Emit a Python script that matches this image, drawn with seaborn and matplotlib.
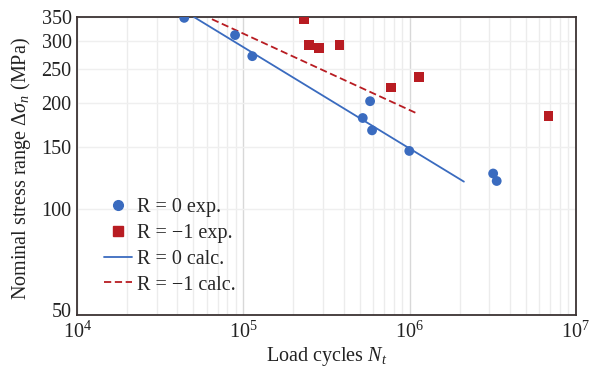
import matplotlib
matplotlib.use("Agg")
import matplotlib.pyplot as plt
import matplotlib.ticker as mticker
import matplotlib.transforms as mtransforms
from matplotlib.lines import Line2D
import numpy as np
import pandas as pd
import seaborn as sns

# experimental points
n_r0 = [44000, 89000, 113000, 578000, 522000, 594000, 995000, 3180000, 3340000]
s_r0 = [348, 311, 271, 202, 181, 167, 146, 126, 120]
n_r1 = [231000, 248000, 285000, 378000, 769000, 1140000, 6850000]
s_r1 = [346, 292, 286, 292, 221, 236, 183]

# calculated S-N lines (end points)
n_calc_r0 = [50300, 2120000]
s_calc_r0 = [350, 119.5]
n_calc_r1 = [64600, 1120000]
s_calc_r1 = [345, 186]

y_ticks = [50, 100, 150, 200, 250, 300, 350]

blue = "#3a6bbf"
red = "#b81c22"
spine_col = "#3b3333"
fs = 14.5

sns.set_style("white")
plt.rcParams["font.family"] = ["Liberation Serif", "DejaVu Serif"]
plt.rcParams["mathtext.fontset"] = "custom"
plt.rcParams["mathtext.rm"] = "Liberation Serif"
plt.rcParams["mathtext.it"] = "Liberation Serif:italic"

exp = pd.concat([
    pd.DataFrame({"N": n_r0, "S": s_r0, "series": "R = 0 exp."}),
    pd.DataFrame({"N": n_r1, "S": s_r1, "series": "R = \u22121 exp."}),
])
calc = pd.concat([
    pd.DataFrame({"N": n_calc_r0, "S": s_calc_r0, "series": "R = 0 calc."}),
    pd.DataFrame({"N": n_calc_r1, "S": s_calc_r1, "series": "R = \u22121 calc."}),
])

fig, ax = plt.subplots(figsize=(5.9, 3.69), dpi=100)
ax.set_xscale("log")
ax.set_yscale("log")

sns.lineplot(data=calc, x="N", y="S", hue="series", style="series",
             palette=[blue, red], dashes=[(None, None), (4, 2)],
             linewidth=1.3, ax=ax, legend=False, zorder=3)
sns.scatterplot(data=exp, x="N", y="S", hue="series", style="series",
                palette=[blue, red], markers=["o", "s"], s=50,
                edgecolor="none", ax=ax, legend=False, zorder=4)

ax.set_xlim(1e4, 1e7)
ax.set_ylim(50, 350)
ax.yaxis.set_major_locator(mticker.FixedLocator(y_ticks))
ax.yaxis.set_major_formatter(mticker.FixedFormatter([str(v) for v in y_ticks]))
ax.yaxis.set_minor_locator(mticker.NullLocator())
ax.xaxis.set_major_locator(mticker.LogLocator(base=10))
ax.xaxis.set_minor_locator(mticker.LogLocator(base=10, subs=np.arange(2, 10)))
ax.xaxis.set_minor_formatter(mticker.NullFormatter())

ax.grid(True, which="major", axis="y", color="#efefef", linewidth=1.0)
ax.grid(True, which="major", axis="x", color="#d8d8d8", linewidth=1.0)
ax.grid(True, which="minor", axis="x", color="#ececec", linewidth=1.0)
ax.set_axisbelow(True)

ax.tick_params(axis="x", which="both", direction="in", colors=spine_col,
               labelcolor="#222222", labelsize=fs, pad=5)
ax.tick_params(axis="x", which="major", length=5)
ax.tick_params(axis="x", which="minor", length=4)
ax.tick_params(axis="y", which="both", length=0, labelsize=fs,
               labelcolor="#222222", pad=4)

# lift the bottom "50" label a little so it clears 10^4
lbl50 = ax.get_yticklabels()[0]
lbl50.set_transform(lbl50.get_transform() +
                    mtransforms.ScaledTranslation(0, 4 / 72, fig.dpi_scale_trans))

for sp in ax.spines.values():
    sp.set_color(spine_col)
    sp.set_linewidth(1.3)

ax.set_xlabel("Load cycles $N_t$", fontsize=fs, color="#222222", labelpad=1)
ax.set_ylabel("Nominal stress range $\\Delta\\sigma_n$ (MPa)", fontsize=fs,
              color="#222222")
ax.yaxis.set_label_coords(-0.088, 0.49)

handles = [
    Line2D([], [], marker="o", color=blue, linestyle="none", markersize=7),
    Line2D([], [], marker="s", color=red, linestyle="none", markersize=7),
    Line2D([], [], color=blue, linewidth=1.3),
    Line2D([], [], color=red, linewidth=1.3, dashes=(4, 2)),
]
labels = ["R = 0 exp.", "R = \u22121 exp.", "R = 0 calc.", "R = \u22121 calc."]
ax.legend(handles, labels, loc="lower left", bbox_to_anchor=(0.038, 0.042),
          frameon=False, fontsize=fs, handlelength=1.4, handletextpad=0.2,
          labelspacing=0.33, borderaxespad=0.0)

plt.subplots_adjust(left=0.131, right=0.976, top=0.954, bottom=0.146)
fig.savefig("out.png", dpi=100)
